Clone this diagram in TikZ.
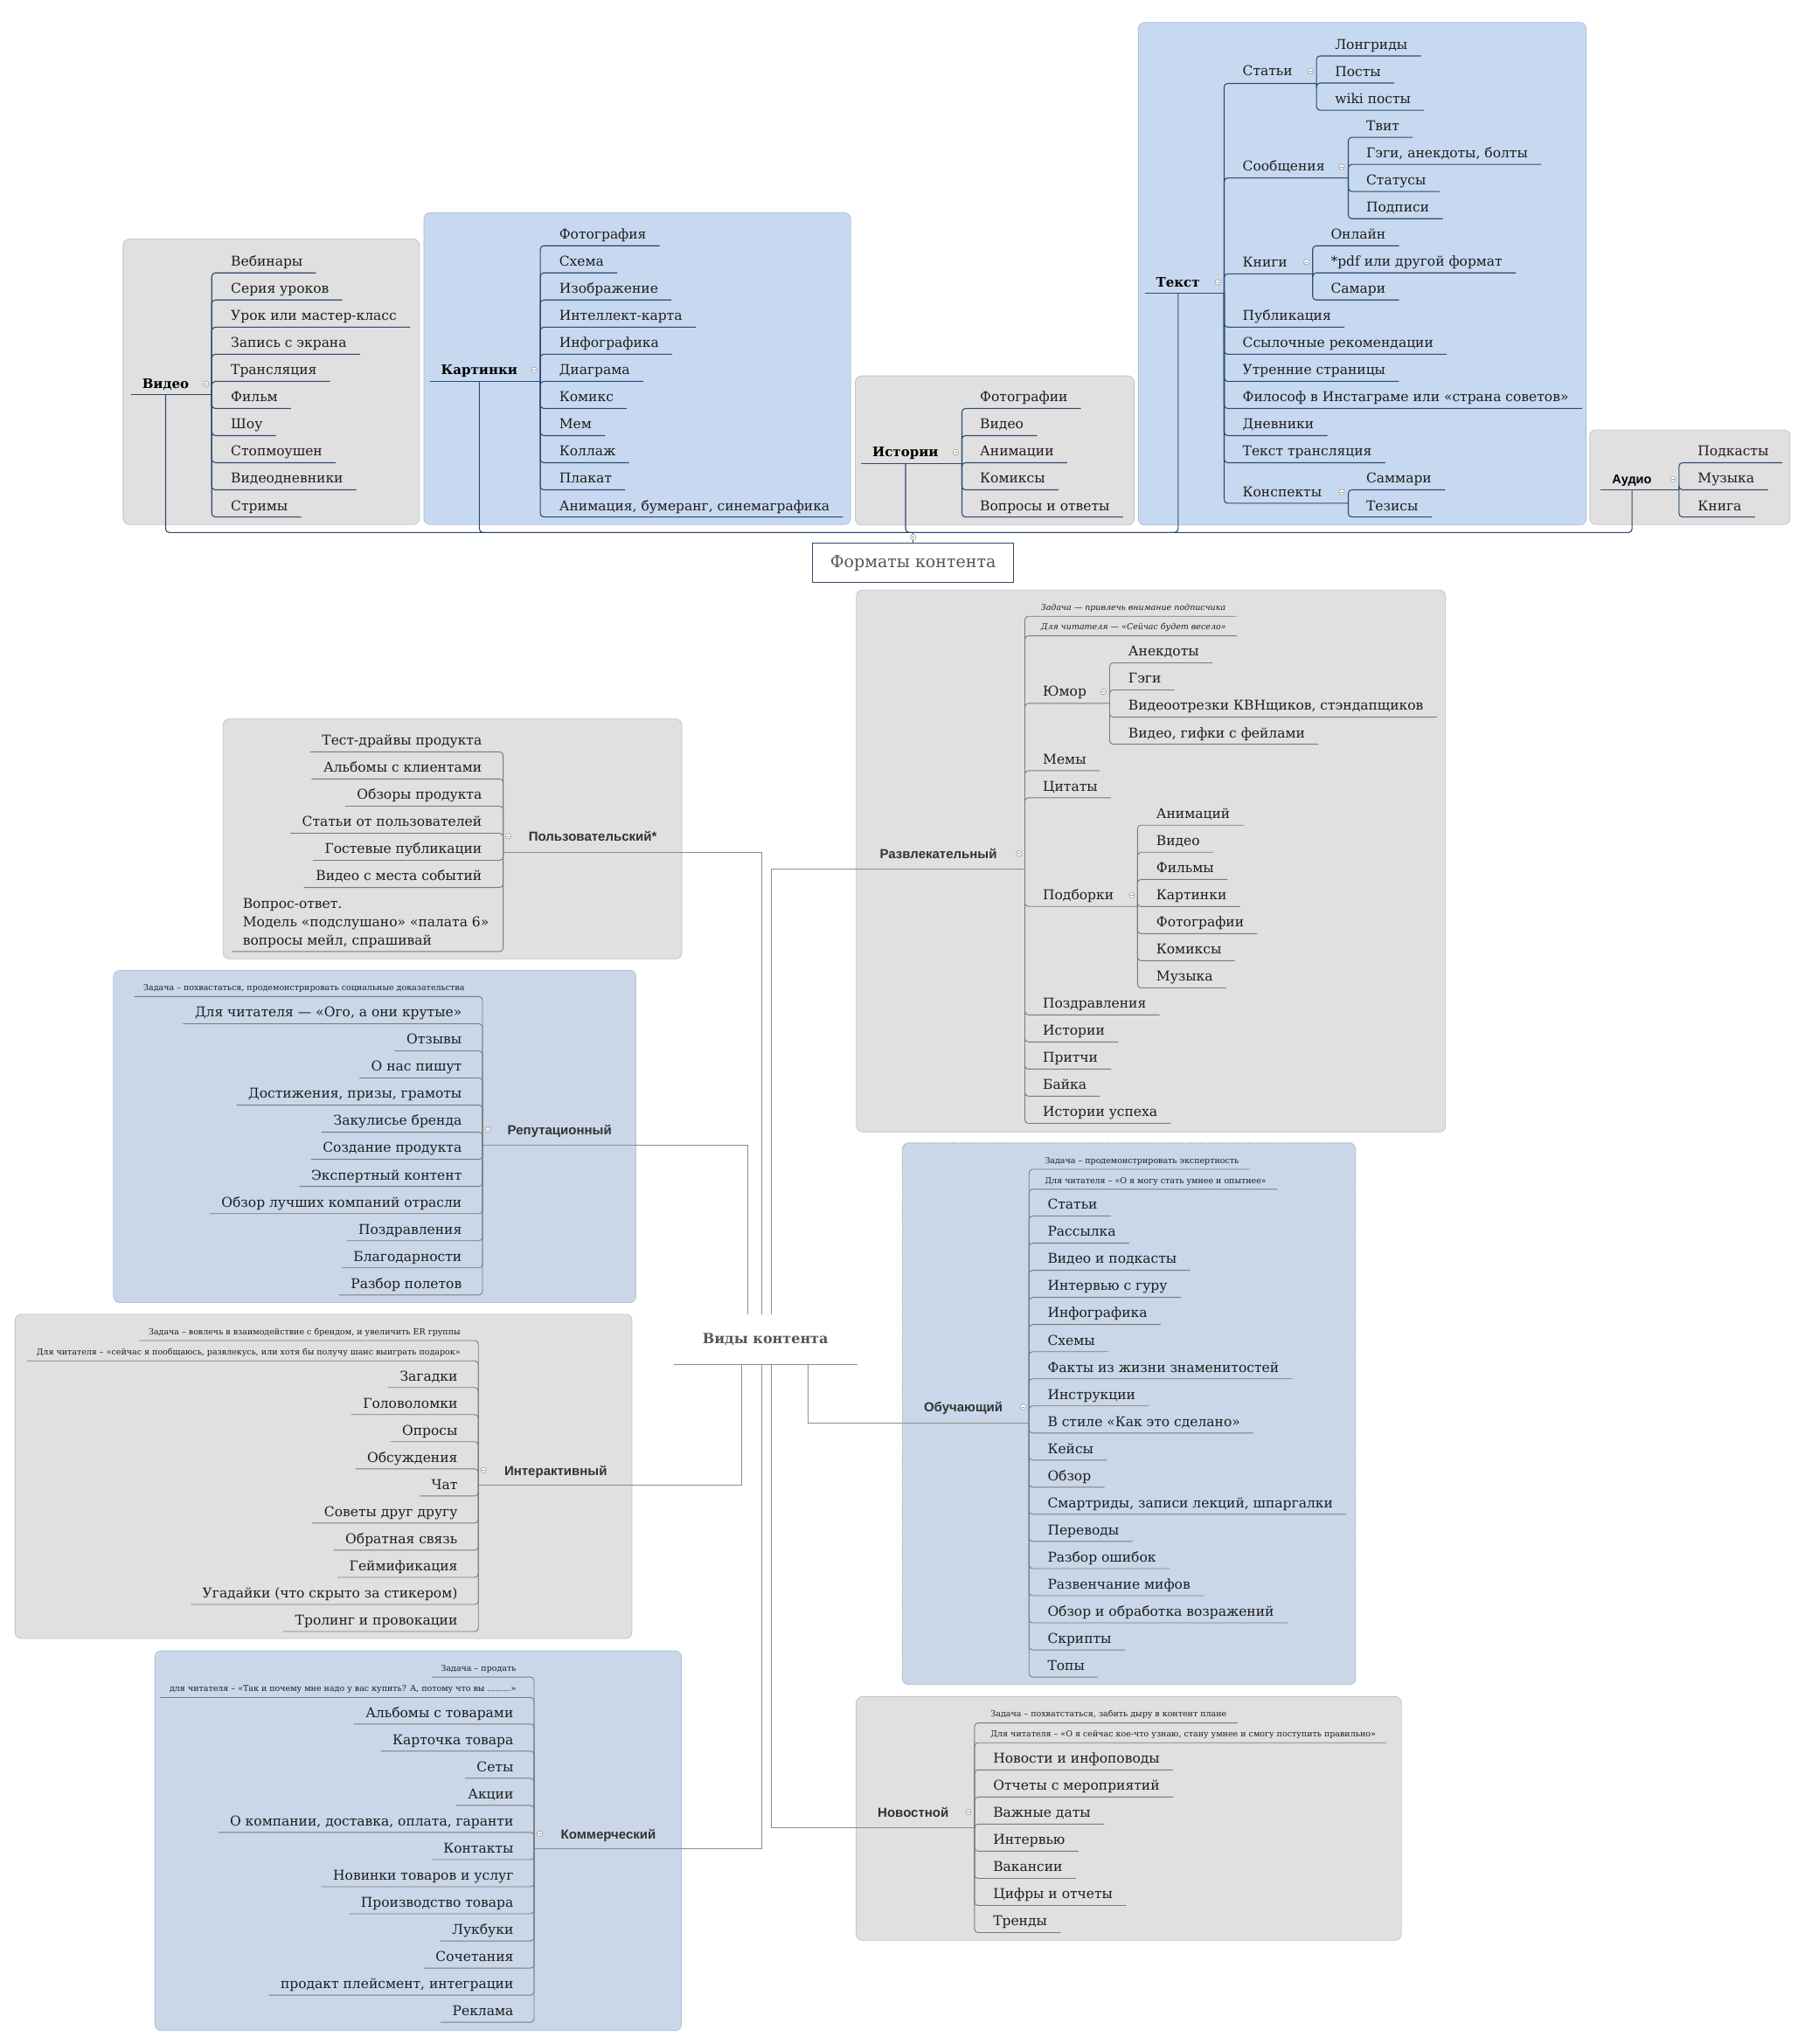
\documentclass[tikz,border=0pt]{standalone}
\usepackage{fontspec}
\setmainfont{DejaVu Serif}
\setsansfont{Liberation Sans}
\usepackage{xcolor}
\definecolor{NavyLine}{HTML}{2E4B6E}
\definecolor{GreyLine}{HTML}{7A7A7A}
\definecolor{LinkGrey}{HTML}{8E8E8E}
\definecolor{PanelGrey}{HTML}{E0E0E0}
\definecolor{PanelGreyEdge}{HTML}{C4C4C4}
\definecolor{PanelBlue}{HTML}{C7D9F0}
\definecolor{PanelSteel}{HTML}{C9D7E9}
\definecolor{PanelBlueEdge}{HTML}{AEC2DA}
\definecolor{InkDark}{HTML}{1E1E1E}
\definecolor{LabelGrey}{HTML}{333333}
\definecolor{TitleGrey}{HTML}{555555}
\definecolor{BtnEdge}{HTML}{9A9A9A}
\usepackage{tikz}
\usetikzlibrary{calc,fit}

\begin{document}
\begin{tikzpicture}[x=1pt,y=-1pt,scale=1.4913,
item/.style={anchor=base west,inner sep=0pt,text=InkDark,font=\fontsize{15.5}{19}\selectfont},
ritem/.style={item,anchor=base east},
note/.style={anchor=base west,inner sep=0pt,text=InkDark,font=\fontsize{9.5}{11}\selectfont},
rnote/.style={note,anchor=base east},
toplab/.style={anchor=base,inner xsep=13pt,inner ysep=0pt,text=black,font=\fontsize{15}{18}\selectfont\bfseries},
btmlab/.style={anchor=base,inner sep=0pt,text=LabelGrey,font=\fontsize{15}{18}\selectfont\sffamily\bfseries},
tl/.style={draw=NavyLine,line width=1.1pt,rounded corners=4pt},
gl/.style={draw=GreyLine,line width=0.9pt,rounded corners=4pt},
ll/.style={draw=LinkGrey,line width=0.9pt},
gpanel/.style={draw=PanelGreyEdge,fill=PanelGrey,rounded corners=7pt,inner sep=0pt,line width=0.8pt},
bpanel/.style={gpanel,draw=PanelBlueEdge,fill=PanelBlue},
spanel/.style={gpanel,draw=PanelBlueEdge,fill=PanelSteel},
pics/cbtn/.style={code={\draw[draw=BtnEdge,fill=white,line width=0.6pt] (0,0) circle (3.2);\draw[draw=BtnEdge,line width=0.6pt] (-1.7,0) -- (1.7,0);}}]
\fill[white] (0,0) rectangle (1384,1568);
\useasboundingbox (0,0) rectangle (1384,1568);

% panels
\node[gpanel,fit={(94.4,183.3)(321.6,402.3)}] (vidBox) {};
\node[bpanel,fit={(325,163.2)(652.3,402.3)}] (karBox) {};
\node[gpanel,fit={(655.9,288.3)(869.6,402.7)}] (istBox) {};
\node[bpanel,fit={(872.9,17.2)(1216.3,402.7)}] (txtBox) {};
\node[gpanel,fit={(1219,329.7)(1372.6,402.3)}] (audBox) {};
\node[gpanel,fit={(171.1,551.4)(522.8,735.4)}] (polBox) {};
\node[spanel,fit={(87,744.3)(487.6,999.1)}] (repBox) {};
\node[gpanel,fit={(11.6,1008)(484.6,1256.8)}] (intBox) {};
\node[spanel,fit={(118.7,1266.2)(522.5,1557.5)}] (comBox) {};
\node[gpanel,fit={(656.7,452.5)(1108.5,868.2)}] (razBox) {};
\node[spanel,dash pattern=on 1.2pt off 1.2pt,draw=BtnEdge,fit={(691.9,876.6)(1039.6,1292.1)}] (obuBox) {};
\node[gpanel,fit={(656.5,1301.3)(1074.6,1488.2)}] (novBox) {};

% junctions
\coordinate (hub) at (700.3,408.4);
\coordinate (vidJ) at (162.4,302.4);
\coordinate (karJ) at (414.3,292.8);
\coordinate (istJ) at (737.6,355.6);
\coordinate (txtJ) at (938.7,224.8);
\coordinate (audJ) at (1287.5,375.5);
\coordinate (stJ) at (1009.5,64);
\coordinate (soJ) at (1033.9,136.5);
\coordinate (knJ) at (1006.6,210);
\coordinate (koJ) at (1033.9,386);
\coordinate (polJ) at (385.8,653.5);
\coordinate (repJ) at (370,878.4);
\coordinate (intJ) at (366.8,1139.3);
\coordinate (comJ) at (409.5,1418.2);
\coordinate (razJ) at (785.9,666.4);
\coordinate (humJ) at (850.9,539.5);
\coordinate (podJ) at (872.3,695.2);
\coordinate (obuJ) at (789.1,1091.3);
\coordinate (novJ) at (747.3,1401.5);

% formats
\node[draw=NavyLine,line width=1pt,fill=white,minimum width=230pt,minimum height=44.4pt,text=TitleGrey,font=\fontsize{19}{22}\selectfont] (fmt) at (700.3,431.8) {Форматы контента};
\draw[tl] (fmt.north) -- (hub);
\pic at (700.3,412) {cbtn};

\node[toplab] (vidL) at (127,297.9) {Видео};
\node[toplab] (karL) at (367.6,287.4) {Картинки};
\node[toplab] (istL) at (694.4,350.4) {Истории};
\node[toplab] (txtL) at (903.4,219.9) {Текст};
\node[toplab,font=\fontsize{14.5}{18}\selectfont\sffamily\bfseries] (audL) at (1251.5,371.2) {Аудио};
\draw[tl] (vidL.west |- vidJ) -- (vidJ);
\draw[tl] (karL.west |- karJ) -- (karJ);
\draw[tl] (istL.west |- istJ) -- (istJ);
\draw[tl] (txtL.west |- txtJ) -- (txtJ);
\draw[tl] (audL.west |- audJ) -- (audJ);
\draw[tl] (vidL.center |- vidJ) |- (hub);
\draw[tl] (karL.center |- karJ) |- (hub);
\draw[tl] (istL.center |- istJ) |- (hub);
\draw[tl] (txtL.center |- txtJ) |- (hub);
\draw[tl] (audL.center |- audJ) |- (hub);

\foreach \lbl [count=\i] in {Вебинары,Серия уроков,Урок или мастер-класс,Запись с экрана,Трансляция,Фильм,Шоу,Стопмоушен,Видеодневники,Стримы}
 {\node[item] (vid\i) at (177,{204.3+20.8*(\i-1)}) {\lbl};\draw[tl] (vidJ) |- ($(vid\i.base east)+(10,5)$);}
\foreach \lbl [count=\i] in {Фотография,Схема,Изображение,Интеллект-карта,Инфографика,Диаграма,Комикс,Мем,Коллаж,Плакат,{Анимация, бумеранг, синемаграфика}}
 {\node[item] (kar\i) at (428.8,{183.5+20.8*(\i-1)}) {\lbl};\draw[tl] (karJ) |- ($(kar\i.base east)+(10,5)$);}
\foreach \lbl [count=\i] in {Фотографии,Видео,Анимации,Комиксы,Вопросы и ответы}
 {\node[item] (ist\i) at (751.5,{308.3+20.8*(\i-1)}) {\lbl};\draw[tl] (istJ) |- ($(ist\i.base east)+(10,5)$);}
\foreach \lbl [count=\i] in {Подкасты,Музыка,Книга}
 {\node[item] (aud\i) at (1302,{349.9+20.8*(\i-1)}) {\lbl};\draw[tl] (audJ) |- ($(aud\i.base east)+(10,5)$);}

\node[item] (txtSt) at (952.9,58) {Статьи};
\node[item] (txtSo) at (952.9,131.2) {Сообщения};
\node[item] (txtKn) at (952.9,204.5) {Книги};
\node[item] (txtKo) at (952.9,381) {Конспекты};
\draw[tl] (txtJ) |- (stJ);
\draw[tl] (txtJ) |- (soJ);
\draw[tl] (txtJ) |- (knJ);
\draw[tl] (txtJ) |- (koJ);
\foreach \lbl [count=\i] in {Публикация,Ссылочные рекомендации,Утренние страницы,Философ в Инстаграме или «страна советов»,Дневники,Текст трансляция}
 {\node[item] (txt\i) at (952.9,{245.9+20.8*(\i-1)}) {\lbl};\draw[tl] (txtJ) |- ($(txt\i.base east)+(10,5)$);}
\foreach \lbl [count=\i] in {Лонгриды,Посты,wiki посты}
 {\node[item] (st\i) at (1023.7,{37.9+20.8*(\i-1)}) {\lbl};\draw[tl] (stJ) |- ($(st\i.base east)+(10,5)$);}
\foreach \lbl [count=\i] in {Твит,{Гэги, анекдоты, болты},Статусы,Подписи}
 {\node[item] (so\i) at (1047.7,{100.3+20.8*(\i-1)}) {\lbl};\draw[tl] (soJ) |- ($(so\i.base east)+(10,5)$);}
\foreach \lbl [count=\i] in {Онлайн,*pdf или другой формат,Самари}
 {\node[item] (kn\i) at (1020.5,{183.5+20.8*(\i-1)}) {\lbl};\draw[tl] (knJ) |- ($(kn\i.base east)+(10,5)$);}
\foreach \lbl [count=\i] in {Саммари,Тезисы}
 {\node[item] (ko\i) at (1047.7,{370.7+20.8*(\i-1)}) {\lbl};\draw[tl] (koJ) |- ($(ko\i.base east)+(10,5)$);}

\foreach \p in {(158,294.5),(409.7,283.7),(733,347),(934,216.5),(1283,367.5),(1004.8,54.5),(1029,128),(1002,201),(1029,377.5)}
 \pic at \p {cbtn};

% kinds
\node[anchor=south,inner sep=0pt,fill=white,minimum width=209.7pt,minimum height=57.5pt,text=TitleGrey,font=\fontsize{16}{19}\selectfont\bfseries] (vk) at (587,1046.6) {Виды контента};
\draw[ll] (vk.south west) -- (vk.south east);
\draw[ll] ($(vk.north)+(-3.2,0)$) |- (polJ);
\draw[ll] ($(vk.north)+(4.2,0)$) |- (razJ);
\draw[ll] ($(vk.north)+(-13.4,0)$) |- (repJ);
\draw[ll] ($(vk.south)+(-18.1,0)$) |- (intJ);
\draw[ll] ($(vk.south)+(-3.2,0)$) |- (comJ);
\draw[ll] ($(vk.south)+(4.2,0)$) |- (novJ);
\draw[ll] ($(vk.south)+(32.8,0)$) |- (obuJ);

\node[btmlab] (polL) at (454.6,645.5) {Пользовательский*};
\node[btmlab] (repL) at (429.2,870.8) {Репутационный};
\node[btmlab] (intL) at (426.2,1131.7) {Интерактивный};
\node[btmlab] (comL) at (466.6,1410.6) {Коммерческий};
\node[btmlab] (razL) at (719.7,658.8) {Развлекательный};
\node[btmlab] (obuL) at (738.8,1083.2) {Обучающий};
\node[btmlab] (novL) at (700.4,1393.9) {Новостной};

\foreach \lbl [count=\i] in {Тест-драйвы продукта,Альбомы с клиентами,Обзоры продукта,Статьи от пользователей,Гостевые публикации,Видео с места событий}
 {\node[ritem] (pol\i) at (369.7,{571.7+20.8*(\i-1)}) {\lbl};\draw[gl] (polJ) |- ($(pol\i.base west)+(-9,5)$);}
\node[item,anchor=south west,align=left,font=\fontsize{15.5}{20.9}\selectfont] (pol7) at (186.1,727.1) {Вопрос-ответ.\\Модель «подслушано» «палата 6»\\вопросы мейл, спрашивай};
\draw[gl] (polJ) |- ($(pol7.south west)+(-8,2.7)$);

\node[rnote] (repN) at (356.4,760) {Задача – похвастаться, продемонстрировать социальные доказательства};
\draw[gl] (repJ) |- ($(repN.base west)+(-7,4.4)$);
\foreach \lbl [count=\i] in {{Для читателя — «Ого, а они крутые»},Отзывы,О нас пишут,{Достижения, призы, грамоты},Закулисье бренда,Создание продукта,Экспертный контент,Обзор лучших компаний отрасли,Поздравления,Благодарности,Разбор полетов}
 {\node[ritem] (rep\i) at (354.3,{780.2+20.8*(\i-1)}) {\lbl};\draw[gl] (repJ) |- ($(rep\i.base west)+(-9,5)$);}

\node[rnote] (intN) at (353.2,1023.8) {Задача – вовлечь в взаимодействие с брендом, и увеличить ER группы};
\node[rnote] (intR) at (353.2,1039.4) {Для читателя – «сейчас я пообщаюсь, развлекусь, или хотя бы получу шанс выиграть подарок»};
\draw[gl] (intJ) |- ($(intN.base west)+(-7,4.4)$);
\draw[gl] (intJ) |- ($(intR.base west)+(-7,4.4)$);
\foreach \lbl [count=\i] in {Загадки,Головоломки,Опросы,Обсуждения,Чат,Советы друг другу,Обратная связь,Геймификация,Угадайки (что скрыто за стикером),Тролинг и провокации}
 {\node[ritem] (int\i) at (351,{1059.2+20.8*(\i-1)}) {\lbl};\draw[gl] (intJ) |- ($(int\i.base west)+(-9,5)$);}

\node[rnote] (comN) at (396,1281.9) {Задача – продать};
\node[rnote] (comR) at (396,1297.6) {для читателя – «Так и почему мне надо у вас купить? А, потому что вы .........»};
\draw[gl] (comJ) |- ($(comN.base west)+(-7,4.4)$);
\draw[gl] (comJ) |- ($(comR.base west)+(-7,4.4)$);
\foreach \lbl [count=\i] in {Альбомы с товарами,Карточка товара,Сеты,Акции,{О компании,  доставка, оплата, гаранти},Контакты,Новинки товаров и услуг,Производство товара,Лукбуки,Сочетания,{продакт плейсмент, интеграции},Реклама}
 {\node[ritem] (com\i) at (393.9,{1317.3+20.8*(\i-1)}) {\lbl};\draw[gl] (comJ) |- ($(com\i.base west)+(-9,5)$);}

\node[note,font=\fontsize{9.5}{11}\selectfont\itshape] (razN) at (798.2,468.3) {Задача — привлечь внимание подписчика};
\node[note,font=\fontsize{9.5}{11}\selectfont\itshape] (razR) at (798.2,483.3) {Для читателя — «Сейчас будет весело»};
\draw[gl] (razJ) |- ($(razN.base east)+(8,4.4)$);
\draw[gl] (razJ) |- ($(razR.base east)+(8,4.4)$);
\node[item] (razH) at (799.7,534.1) {Юмор};
\node[item] (razM) at (799.7,586.1) {Мемы};
\node[item] (razC) at (799.7,606.9) {Цитаты};
\node[item] (razP) at (799.7,690.4) {Подборки};
\draw[gl] (razJ) |- (humJ);
\draw[gl] (razJ) |- ($(razM.base east)+(10,5)$);
\draw[gl] (razJ) |- ($(razC.base east)+(10,5)$);
\draw[gl] (razJ) |- (podJ);
\foreach \lbl [count=\i] in {Анекдоты,Гэги,{Видеоотрезки КВНщиков, стэндапщиков},{Видео, гифки с фейлами}}
 {\node[item] (hum\i) at (865.3,{503.4+20.8*(\i-1)}) {\lbl};\draw[gl] (humJ) |- ($(hum\i.base east)+(10,5)$);}
\foreach \lbl [count=\i] in {Анимаций,Видео,Фильмы,Картинки,Фотографии,Комиксы,Музыка}
 {\node[item] (pod\i) at (886.7,{627.9+20.8*(\i-1)}) {\lbl};\draw[gl] (podJ) |- ($(pod\i.base east)+(10,5)$);}
\foreach \lbl [count=\i] in {Поздравления,Истории,Притчи,Байка,Истории успеха}
 {\node[item] (raz\i) at (799.7,{773.4+20.8*(\i-1)}) {\lbl};\draw[gl] (razJ) |- ($(raz\i.base east)+(10,5)$);}

\node[note] (obuN) at (801.3,892.4) {Задача – продемонстрировать экспертность};
\node[note] (obuR) at (801.3,907.7) {Для читателя – «О я могу стать  умнее и опытнее»};
\draw[gl] (obuJ) |- ($(obuN.base east)+(8,4.4)$);
\draw[gl] (obuJ) |- ($(obuR.base east)+(8,4.4)$);
\foreach \lbl [count=\i] in {Статьи,Рассылка,Видео и подкасты,Интервью с гуру,Инфографика,Схемы,Факты из жизни знаменитостей,Инструкции,В стиле «Как это сделано»,Кейсы,Обзор,{Смартриды, записи лекций, шпаргалки},Переводы,Разбор ошибок,Развенчание мифов,Обзор и обработка возражений,Скрипты,Топы}
 {\node[item] (obu\i) at (803.3,{927.7+20.8*(\i-1)}) {\lbl};\draw[gl] (obuJ) |- ($(obu\i.base east)+(10,5)$);}

\node[note] (novN) at (759.7,1317.1) {Задача – похватстаться, забить дыру в контент плане};
\node[note] (novR) at (759.7,1332.3) {Для читателя  – «О я сейчас кое-что узнаю, стану умнее и смогу поступить правильно»};
\draw[gl] (novJ) |- ($(novN.base east)+(8,4.4)$);
\draw[gl] (novJ) |- ($(novR.base east)+(8,4.4)$);
\foreach \lbl [count=\i] in {Новости и инфоповоды,Отчеты с мероприятий,Важные даты,Интервью,Вакансии,Цифры и отчеты,Тренды}
 {\node[item] (nov\i) at (761.6,{1352.5+20.8*(\i-1)}) {\lbl};\draw[gl] (novJ) |- ($(nov\i.base east)+(10,5)$);}

\foreach \p in {(389.8,641.5),(374.2,866.8),(370.8,1127.7),(413.9,1406.6),(781.5,654.8),(846.3,530.6),(868,686.9),(784.8,1079.2),(742.7,1389.9)}
 \pic at \p {cbtn};
\end{tikzpicture}
\end{document}
